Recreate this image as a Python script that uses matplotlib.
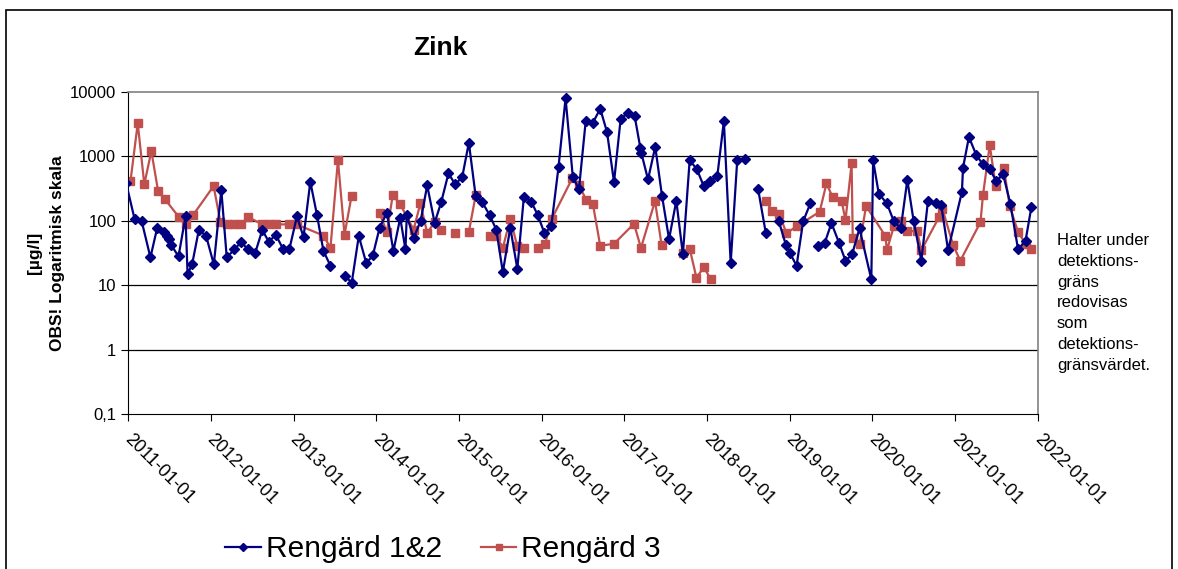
import numpy as np
import pandas as pd
import matplotlib
matplotlib.use("Agg")
import matplotlib.pyplot as plt
from matplotlib.patches import Rectangle
from matplotlib.transforms import ScaledTranslation

plt.rcParams['font.family'] = ['Liberation Sans', 'DejaVu Sans']

# Rengärd 1&2 (None = no sample, gives a gap in the line)
dates_12 = ["2010-12-24", "2011-01-30", "2011-03-02", "2011-04-10", "2011-05-10",
            "2011-06-11", "2011-06-21", "2011-07-03", "2011-07-11", "2011-08-12",
            "2011-09-12", "2011-09-21", "2011-10-11", "2011-11-10", "2011-12-12",
            "2012-01-15", "2012-02-17", "2012-03-12", "2012-04-15", "2012-05-15",
            "2012-06-13", "2012-07-16", "2012-08-16", "2012-09-14", "2012-10-14",
            "2012-11-15", "2012-12-14", "2013-01-16", "2013-02-14", "2013-03-16",
            "2013-04-14", "2013-05-13", "2013-06-13", "2013-07-15", "2013-08-14",
            "2013-09-15", "2013-10-16", "2013-11-18", "2013-12-17", "2014-01-16",
            "2014-02-17", "2014-03-18", "2014-04-17", "2014-05-10", "2014-05-16",
            "2014-06-15", "2014-07-16", "2014-08-14", "2014-09-16", "2014-10-15",
            "2014-11-16", "2014-12-16", "2015-01-16", "2015-02-14", "2015-03-16",
            "2015-04-14", "2015-05-17", "2015-06-15", "2015-07-14", "2015-08-16",
            "2015-09-16", "2015-10-15", "2015-11-17", "2015-12-16", "2016-01-14",
            "2016-02-13", "2016-03-16", "2016-04-16", "2016-05-18", "2016-06-14",
            "2016-07-14", "2016-08-15", "2016-09-16", "2016-10-16", "2016-11-16",
            "2016-12-15", "2017-01-15", "2017-02-15", "2017-03-12", "2017-03-17",
            "2017-04-15", "2017-05-17", "2017-06-16", "2017-07-17", "2017-08-18",
            "2017-09-16", "2017-10-16", "2017-11-17", "2017-12-17", "2018-01-15",
            "2018-02-15", "2018-03-16", "2018-04-15", "2018-05-14", "2018-06-16",
            "2018-07-15", "2018-08-14", "2018-09-17", "2018-10-15", "2018-11-13",
            "2018-12-15", "2019-01-01", "2019-01-31", "2019-03-01", "2019-04-02",
            "2019-04-20", "2019-05-06", "2019-06-04", "2019-07-04", "2019-08-06",
            "2019-09-04", "2019-10-03", "2019-11-05", "2019-12-27", "2020-01-04",
            "2020-01-29", "2020-03-05", "2020-04-04", "2020-05-05", "2020-06-03",
            "2020-07-01", "2020-08-04", "2020-09-02", "2020-10-06", "2020-10-31",
            "2020-11-30", "2021-01-30", "2021-02-04", "2021-03-02", "2021-04-04",
            "2021-05-03", "2021-06-02", "2021-07-01", "2021-07-31", "2021-09-01",
            "2021-10-05", "2021-11-07", "2021-12-03"]
zink_12 = [380, 107, 100, 27, 78,
           67, 58, 52, 42, 28,
           117, 15, 21, 73, 58,
           21, 300, 27, 36, 47,
           36, 32, 72, 47, 61,
           37, 37, 117, 56, 404,
           125, 34, 20, None, 14,
           11, 58, 22, 29, 78,
           133, 34, 111, 36, 121,
           54, 99, 355, 93, 195,
           545, 367, 483, 1630, 242,
           195, 122, 73, 16, 78,
           18, 236, 197, 121, 64,
           83, 690, 7980, 483, 307,
           3540, 3340, 5510, 2390, 399,
           3760, 4770, 4240, 1365, 1115,
           439, 1410, 242, 52, 205,
           30, 877, 629, 346, 414,
           495, 3540, 22, 877, 898,
           None, 314, 65, None, 100,
           42, 32, 20, 98, 187,
           None, 41, 45, 92, 46,
           24, 30, 76, 12.3, 867,
           263, 186, 99, 76, 429,
           99, 24, 202, 191, 173,
           35, 280, 667, 2000, 1040,
           752, 629, 414, 525, 184,
           36, 49, 165]

# Rengärd 3
dates_3 = ["2011-01-12", "2011-02-13", "2011-03-14", "2011-04-14", "2011-05-14",
           "2011-06-14", "2011-08-13", "2011-09-13", "2011-10-14", "2012-01-14",
           "2012-02-13", "2012-03-14", "2012-04-14", "2012-05-13", "2012-06-15",
           "2012-08-16", "2012-09-14", "2012-10-15", "2012-12-14", "2013-01-14",
           "2013-05-13", "2013-06-13", "2013-07-16", "2013-08-14", "2013-09-14",
           "2013-11-15", "2014-01-16", "2014-02-17", "2014-03-15", "2014-04-17",
           "2014-06-15", "2014-07-15", "2014-08-14", "2014-09-16", "2014-10-15",
           "2014-11-15", "2014-12-13", "2015-01-15", "2015-02-14", "2015-03-16",
           "2015-04-15", "2015-05-17", "2015-06-15", "2015-07-14", "2015-08-16",
           "2015-09-16", "2015-10-15", "2015-11-15", "2015-12-16", "2016-01-16",
           "2016-02-14", "2016-05-16", "2016-06-14", "2016-07-17", "2016-08-15",
           "2016-09-16", "2016-11-16", "2017-02-12", "2017-03-15", "2017-05-16",
           "2017-06-14", "2017-08-15", "2017-09-16", "2017-10-16", "2017-11-15",
           "2017-12-17", "2018-01-17", "2018-05-15", "2018-09-17", "2018-10-16",
           "2018-11-16", "2018-12-17", "2019-01-31", "2019-05-13", "2019-06-12",
           "2019-07-09", "2019-08-18", "2019-09-04", "2019-10-01", "2019-10-06",
           "2019-11-06", "2019-12-04", "2020-02-27", "2020-03-05", "2020-04-05",
           "2020-05-05", "2020-06-03", "2020-07-16", "2020-08-04", "2020-10-21",
           "2020-11-05", "2020-12-22", "2021-01-23", "2021-04-22", "2021-05-03",
           "2021-06-02", "2021-06-28", "2021-08-03", "2021-08-29", "2021-10-05",
           "2021-11-07", "2021-12-03"]
zink_3 = [414, 3260, 367, 1210, 289,
          215, 115, 88, 121, 346,
          96, 88, 88, 88, 114,
          88, 88, 88, 88, 88,
          59, 38, 877, 61, 242,
          None, 130, 67, 250, 180,
          73, 186, 65, 95, 71,
          None, 65, None, 67, 248,
          None, 59, 59, 38, 107,
          40, 38, None, 38, 43,
          105, 460, 354, 210, 180,
          41, 44, 90, 38, 202,
          42, None, 32, 37, 13,
          19, 12.5, None, 205, 142,
          129, 64, 82, 138, 380,
          234, 202, 102, 778, 55,
          44, 170, 58, 35, 83,
          99, 69, 69, 35, 114,
          154, 42, 24, 95, 250,
          1500, 346, 667, 169, 67,
          44, 37]

year_ticks = list(range(2011, 2023))
y_ticks = [0.1, 1, 10, 100, 1000, 10000]
y_labels = ["0,1", "1", "10", "100", "1000", "10000"]

blue = "#000080"
red = "#C0504D"

fig = plt.figure(figsize=(11.78, 5.69), dpi=100)
ax = fig.add_axes([128 / 1178, 1 - 414 / 569, 910 / 1178, 322 / 569])

d12 = pd.to_datetime(dates_12)
v12 = np.array([np.nan if v is None else v for v in zink_12], dtype=float)
d3 = pd.to_datetime(dates_3)
v3 = np.array([np.nan if v is None else v for v in zink_3], dtype=float)

ax.plot(d12, v12, color=blue, lw=1.6, marker="D", ms=5, mec=blue, mfc=blue,
        label="Rengärd 1&2", zorder=3)
ax.plot(d3, v3, color=red, lw=1.6, marker="s", ms=5.5, mec=red, mfc=red,
        label="Rengärd 3", zorder=2)

ax.set_yscale("log")
ax.set_ylim(0.1, 10000)
ax.set_yticks(y_ticks)
ax.set_yticklabels(y_labels)
ax.yaxis.set_minor_locator(matplotlib.ticker.NullLocator())
ax.set_xlim(pd.Timestamp("2011-01-01"), pd.Timestamp("2022-01-01"))
xt = [pd.Timestamp(f"{y}-01-01") for y in year_ticks]
ax.set_xticks(xt)
ax.set_xticklabels([f"{y}-01-01" for y in year_ticks], rotation=-45,
                   ha="left", va="top", rotation_mode="anchor")
ax.xaxis.set_minor_locator(matplotlib.ticker.NullLocator())
ax.tick_params(axis="both", labelsize=12, length=5, width=0.8, direction="out")
ax.tick_params(axis="x", labelsize=13, pad=7)
shift = ScaledTranslation(5 / 100, 0, fig.dpi_scale_trans)
for lbl in ax.get_xticklabels():
    lbl.set_transform(lbl.get_transform() + shift)

for y in y_ticks[1:-1]:
    ax.axhline(y, color="black", lw=0.9, zorder=1)
ax.spines["top"].set_color("#808080")
ax.spines["right"].set_color("#808080")
ax.spines["top"].set_linewidth(1.2)
ax.spines["right"].set_linewidth(1.2)

fig.text(440 / 1178, 1 - 48 / 569, "Zink", fontsize=19, fontweight="bold",
         ha="center", va="center")
fig.text(46 / 1178, 1 - 253 / 569, "[µg/l]\nOBS! Logaritmisk skala",
         rotation=90, fontsize=12.5, fontweight="bold", ha="center",
         va="center", multialignment="center", linespacing=1.65)
fig.text(1057 / 1178, 1 - 233 / 569,
         "Halter under\ndetektions-\ngräns\nredovisas\nsom\ndetektions-\ngränsvärdet.",
         fontsize=12, ha="left", va="top", linespacing=1.48)

fig.legend(loc="center", bbox_to_anchor=(443 / 1178, 1 - 549 / 569), ncol=2,
           frameon=False, fontsize=21.5, handlelength=1.2, handletextpad=0.15,
           columnspacing=1.3, markerscale=0.8)

fig.patches.append(Rectangle((6 / 1178, -0.01), 1166 / 1178, 1 - 10 / 569 + 0.01,
                             transform=fig.transFigure, fill=False,
                             edgecolor="black", lw=1.2))

fig.savefig("out.png", dpi=100)
